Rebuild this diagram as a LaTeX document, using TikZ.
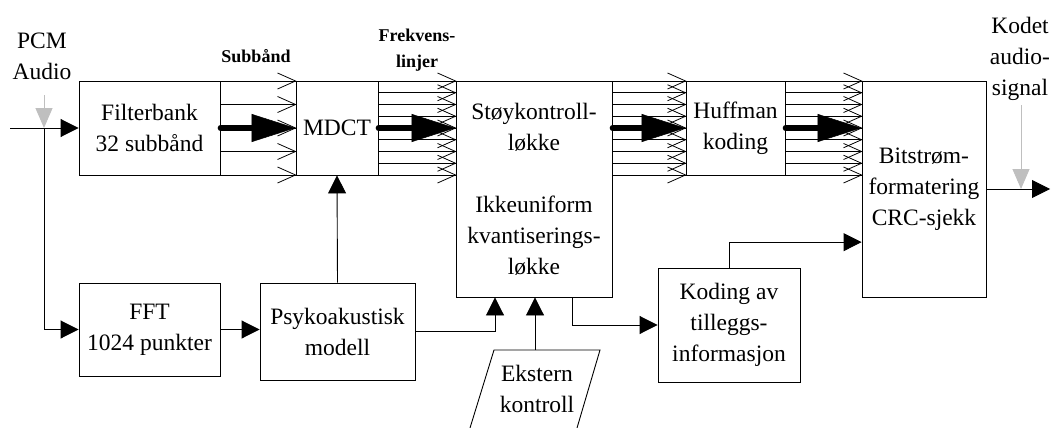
\documentclass[tikz,border=0pt]{standalone}
\usepackage{fontspec}
\setmainfont{Liberation Serif}
\usetikzlibrary{arrows.meta,calc}
\begin{document}
\begin{tikzpicture}[x=1pt,y=-1pt,
  box/.style={draw, line width=0.9pt, align=center, inner sep=0pt, font=\fontsize{23.5}{31}\selectfont},
  lbl/.style={align=center, inner sep=0pt, font=\fontsize{23.5}{31}\selectfont},
  blbl/.style={align=center, inner sep=0pt, font=\fontsize{18}{26}\selectfont\bfseries},
  conn/.style={line width=0.9pt, -{Triangle[length=18pt,width=18pt]}},
  bus/.style={line width=0.8pt},
  fat/.style={line width=5.5pt, line cap=round, -{Triangle[length=44pt,width=28pt,line width=0.5pt]}},
  grayarr/.style={color=black!25, line width=1pt, -{Triangle[length=20pt,width=17pt]}},
]
\useasboundingbox (0,0) rectangle (1052,428);
\fill[white] (0,0) rectangle (1052,428);

% boxes
\node[box, minimum width=141pt, minimum height=94pt] (fb) at (149.5,128) {Filterbank\\32 subbånd};
\node[box, minimum width=82pt, minimum height=94pt] (mdct) at (337,128) {MDCT};
\node[box, minimum width=156pt, minimum height=216pt] (stoy) at (534,189) {Støykontroll-\\løkke\\[31pt]Ikkeuniform\\kvantiserings-\\løkke};
\node[box, minimum width=99pt, minimum height=94pt] (huff) at (735.5,128) {Huffman\\koding};
\node[box, minimum width=124pt, minimum height=216pt] (bs) at (924,189) {Bitstrøm-\\formatering\\CRC-sjekk};
\node[box, minimum width=141pt, minimum height=93pt] (fft) at (149.5,329.5) {FFT\\1024 punkter};
\node[box, minimum width=155pt, minimum height=97pt] (psy) at (337.5,331.5) {Psykoakustisk\\modell};
\node[box, minimum width=142pt, minimum height=114pt] (kod) at (729,325) {Koding av\\tilleggs-\\informasjon};

% external control (parallelogram)
\draw[line width=0.9pt] (470,428) -- (494,350) -- (600,350) -- (577,428);
\node[lbl] (ekt) at (537,389) {Ekstern\\kontroll};
\coordinate (ek) at (535,350);

% labels
\node[lbl] (pcm) at (42,56) {PCM\\Audio};
\node[lbl] (kodet) at (1020,59) {Kodet\\audio-\\signal};
\node[blbl, anchor=base] (sub) at (256,63) {Subbånd};
\node[blbl] (frek) at (417,50) {Frekvens-\\linjer};

% input
\coordinate (in) at (10,128);
\coordinate (br) at (44,128);
\coordinate (pcmg) at (44,95);
\draw[grayarr] (pcmg) -- (br);
\draw[conn] (in) -- (fb.west);
\draw[conn] (br) |- (fft.west);

% buses (lines with open V heads)
\foreach \k in {0,...,4}{
  \pgfmathsetmacro\yy{81+23.5*\k}
  \coordinate (P) at (mdct.west |- 0,\yy);
  \draw[bus] (fb.east |- 0,\yy) -- (P);
  \draw[bus] ($(P)+(-18,-8)$) -- (P) -- ($(P)+(-18,8)$);
}
\foreach \k in {0,...,8}{
  \pgfmathsetmacro\yy{81+11.75*\k}
  \coordinate (P) at (stoy.west |- 0,\yy);
  \draw[bus] (mdct.east |- 0,\yy) -- (P);
  \draw[bus] ($(P)+(-18,-8)$) -- (P) -- ($(P)+(-18,8)$);
  \coordinate (Q) at (huff.west |- 0,\yy);
  \draw[bus] (stoy.east |- 0,\yy) -- (Q);
  \draw[bus] ($(Q)+(-18,-8)$) -- (Q) -- ($(Q)+(-18,8)$);
  \coordinate (R) at (bs.west |- 0,\yy);
  \draw[bus] (huff.east |- 0,\yy) -- (R);
  \draw[bus] ($(R)+(-18,-8)$) -- (R) -- ($(R)+(-18,8)$);
}
\draw[fat] (fb.east) -- (mdct.west);
\draw[fat] (mdct.east) -- (stoy.west |- mdct.east);
\draw[fat] (stoy.east |- huff.west) -- (huff.west);
\draw[fat] (huff.east) -- (bs.west |- huff.east);

% output
\coordinate (out) at (1050,189);
\coordinate (kg) at (1021,105);
\draw[grayarr] (kg) -- (kg |- out);
\draw[conn] (bs.east) -- (out);

% lower connections
\draw[conn] (fft.east) -- (psy.west |- fft.east);
\draw[conn] (psy.north) -- (mdct.south);
\draw[conn] (psy.east) -| ([xshift=-39pt]stoy.south);
\draw[conn] (ek) -- (ek |- stoy.south);
\draw[conn] ([xshift=38pt]stoy.south) |- (kod.west);
\draw[conn] (kod.north) |- ($(bs.south west)!0.255!(bs.north west)$);
\end{tikzpicture}
\end{document}
